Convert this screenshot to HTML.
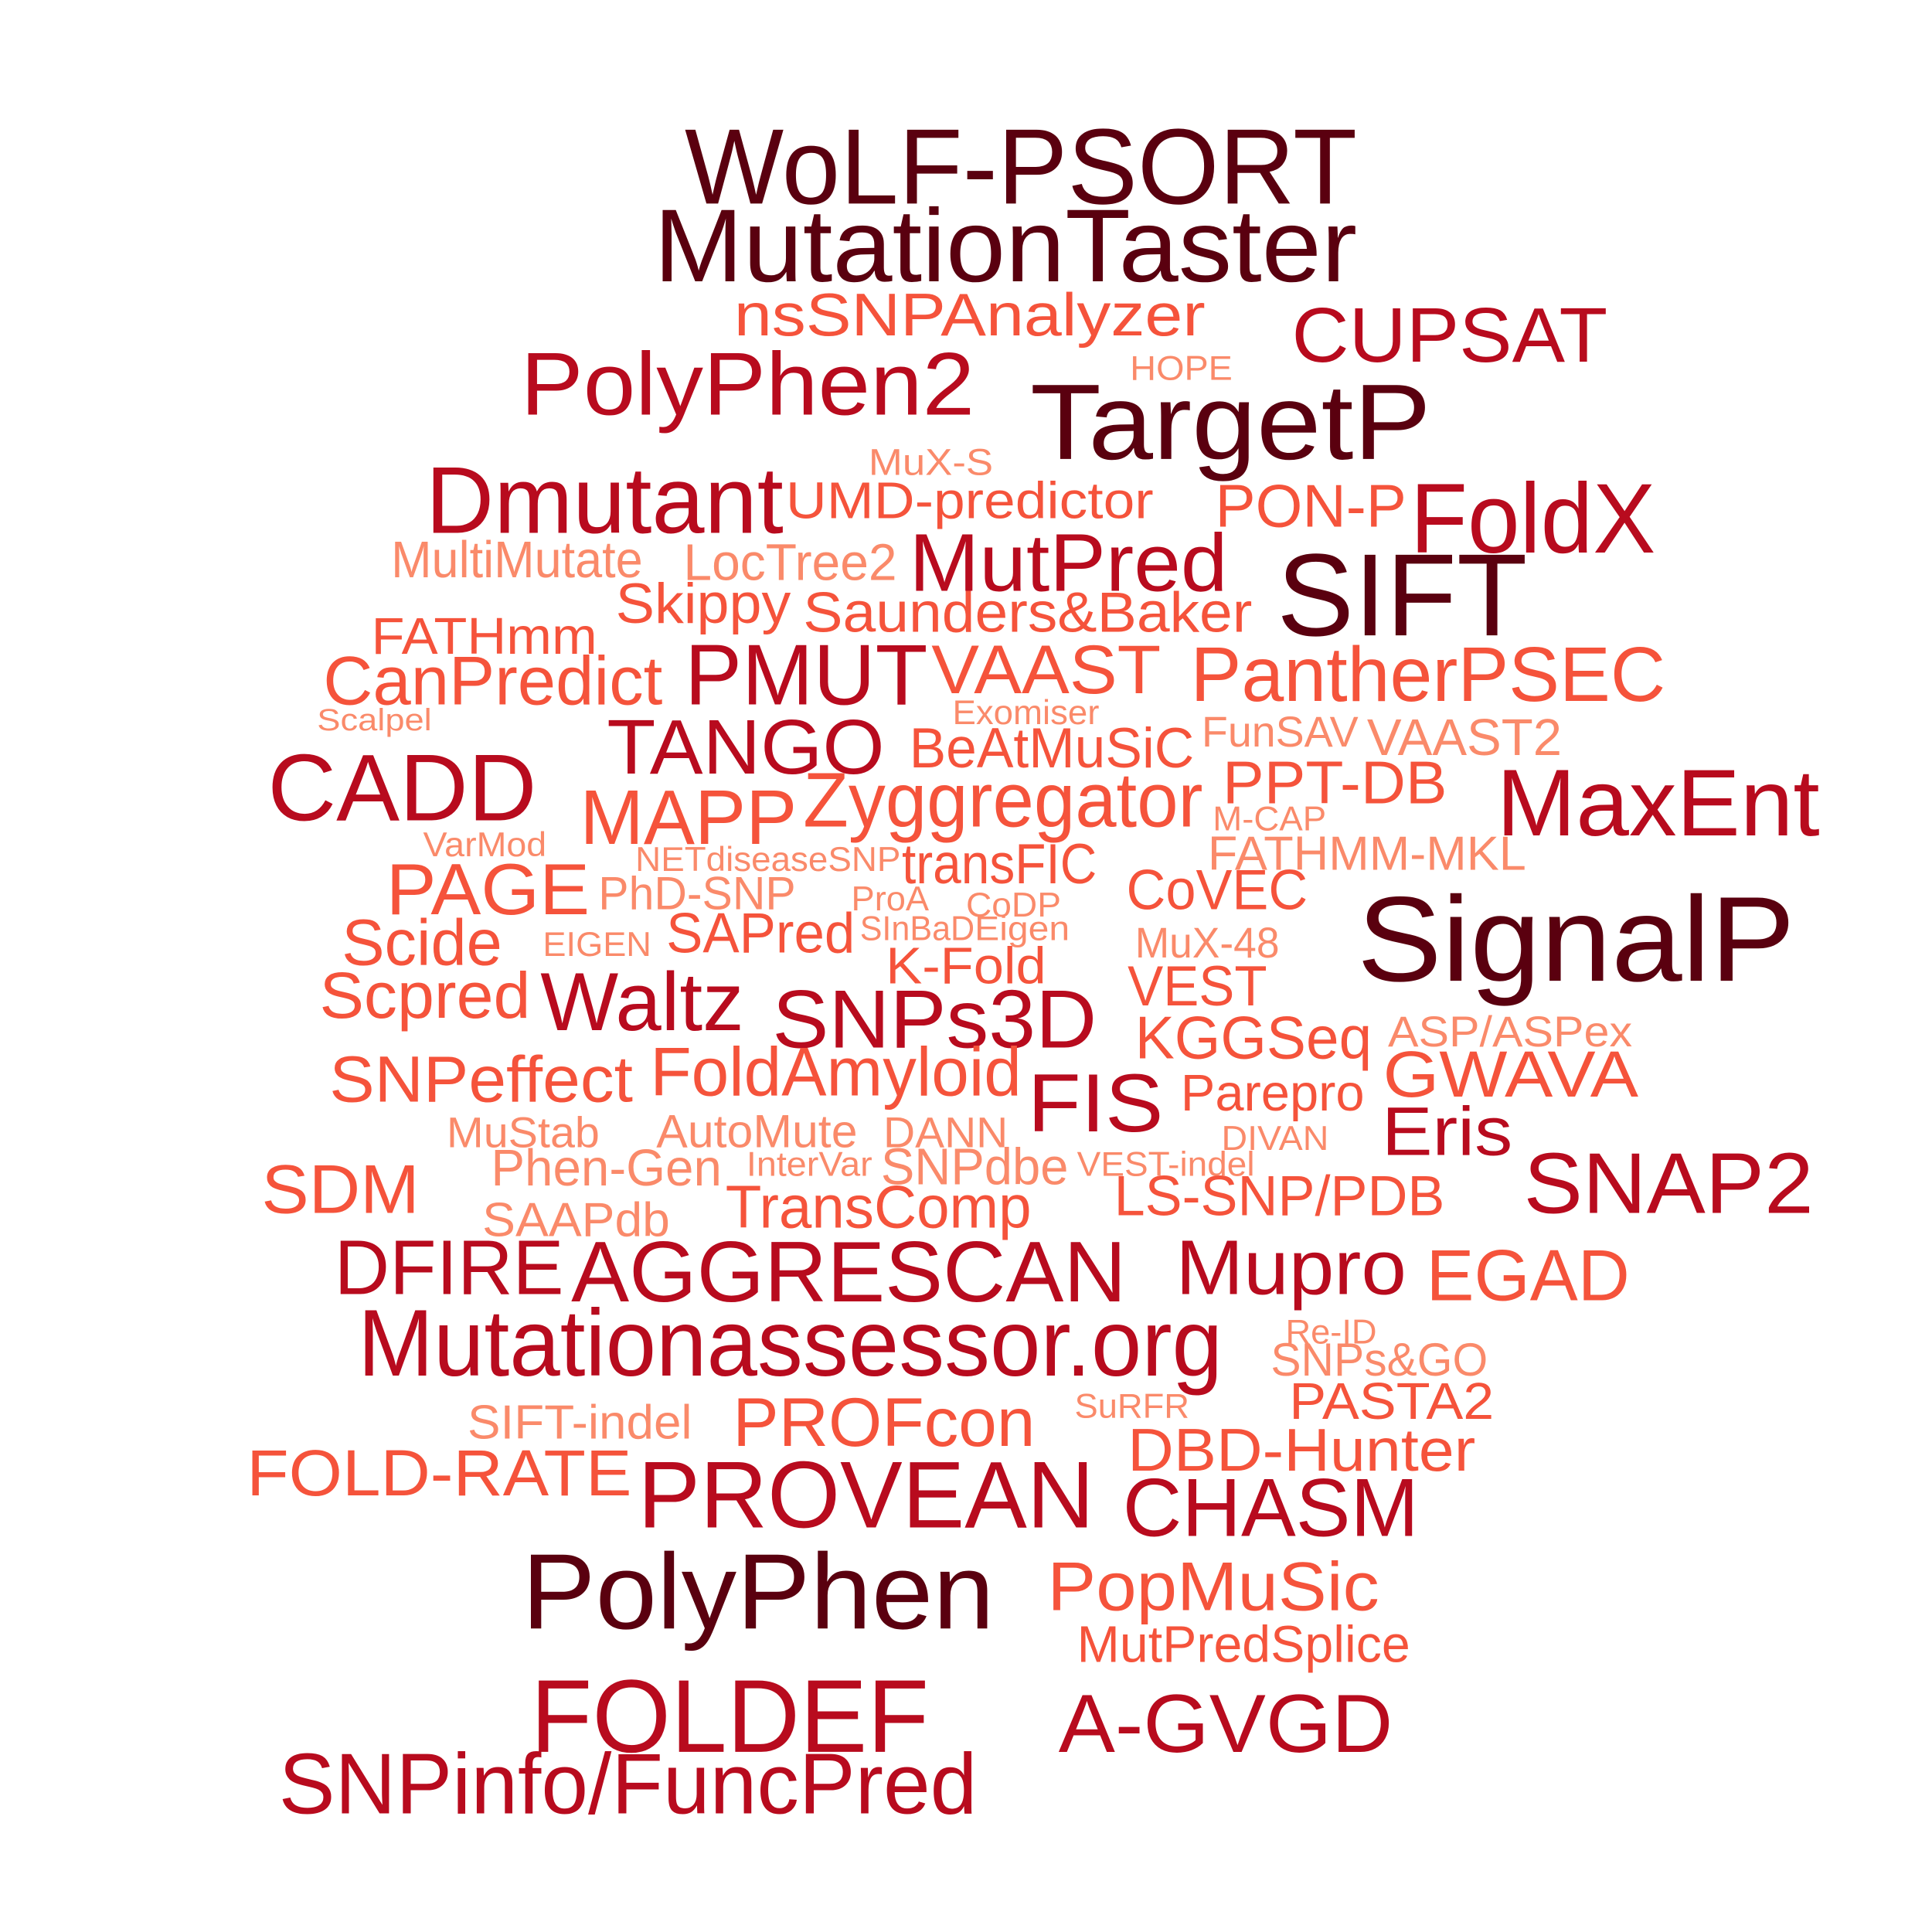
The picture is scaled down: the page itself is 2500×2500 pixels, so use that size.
<!DOCTYPE html>
<html><head><meta charset="utf-8"><style>
html,body{margin:0;padding:0;background:#fff;}
svg{display:block}
text{font-family:"Liberation Sans",Arial,sans-serif;}
</style></head><body>
<svg id="cloud" width="2500" height="2500" viewBox="0 0 1566 1566" xmlns="http://www.w3.org/2000/svg">
<rect width="1566" height="1566" fill="#fff"/>
</svg>
<script>
const words = [
["WoLF-PSORT",555,1100,165,87,"D"],["MutationTaster",530,1100,228,84,"D"],
["nsSNPAnalyzer",595,977,272,49,"O"],["CUPSAT",1047,1303,293,63,"M"],
["PolyPhen2",422,790,336,72,"M"],["HOPE",916,999,308,28,"L"],
["TargetP",835,1160,372,87,"D"],["MuX-S",704,805,385,30,"L"],
["Dmutant",345,635,432,77,"M"],["UMD-predictor",637,935,420,42,"O"],
["PON-P",985,1140,427,49,"O"],["FoldX",1143,1342,448,80,"M"],
["MultiMutate",317,521,468,42,"L"],["LocTree2",554,727,470,42,"L"],
["MutPred",737,995,479,66,"M"],["SIFT",1035,1238,515,95,"D"],
["Skippy",499,641,505,46,"O"],["Saunders&Baker",651,1015,512,46,"O"],
["FATHmm",301,484,530,42,"O"],["CanPredict",262,537,571,56,"O"],
["PMUT",555,752,571,70,"M"],["VAAST",755,941,562,56,"O"],
["PantherPSEC",965,1350,568,63,"O"],["Scalpel",257,350,592,25,"L"],
["Exomiser",772,891,587,28,"L"],["TANGO",492,717,627,63,"M"],
["BeAtMuSiC",737,968,622,46,"O"],["FunSAV",974,1101,605,35,"L"],
["VAAST2",1108,1266,612,42,"L"],["CADD",217,435,665,77,"M"],
["PPT-DB",991,1173,651,49,"O"],["MaxEnt",1213,1475,677,77,"M"],
["MAPP",470,646,684,63,"O"],["Zyggregator",651,975,670,63,"O"],
["M-CAP",983,1075,673,28,"L"],["VarMod",343,443,694,28,"L"],
["FATHMM-MKL",979,1237,705,39,"L"],["NETdiseaseSNP",515,730,706,28,"L"],
["transFIC",731,889,716,46,"O"],["PAGE",313,478,741,59,"O"],
["PhD-SNP",485,645,737,38,"L"],["ProA",690,753,738,28,"L"],
["CoDP",783,860,743,28,"L"],["CoVEC",913,1060,737,46,"O"],
["SignalP",1100,1455,795,98,"D"],["Scide",277,407,782,53,"O"],
["EIGEN",440,528,775,28,"L"],["SAPred",540,693,772,46,"O"],
["SInBaD",697,790,762,28,"L"],["Eigen",790,867,762,28,"L"],
["MuX-48",920,1037,776,35,"L"],["K-Fold",718,848,797,42,"O"],
["Scpred",259,430,825,53,"O"],["Waltz",438,603,835,67,"M"],
["SNPs3D",626,889,849,67,"M"],["VEST",914,1027,815,46,"O"],
["KGGSeq",920,1112,858,49,"O"],["ASP/ASPex",1125,1323,848,35,"L"],
["SNPeffect",267,513,893,53,"O"],["FoldAmyloid",527,828,888,56,"O"],
["FIS",833,943,917,67,"M"],["Parepro",957,1106,900,42,"O"],
["GWAVA",1121,1328,889,53,"O"],["Eris",1120,1226,936,56,"M"],
["MuStab",362,486,930,35,"L"],["AutoMute",532,695,930,38,"L"],
["DANN",716,817,930,35,"L"],["DIVAN",990,1077,932,28,"L"],
["Phen-Gen",398,585,961,42,"L"],["InterVar",605,707,953,28,"L"],
["SNPdbe",714,866,960,42,"L"],["VEST-indel",873,1017,953,28,"L"],
["SNAP2",1235,1470,983,70,"M"],["SDM",212,340,983,56,"O"],
["LS-SNP/PDB",903,1171,985,46,"O"],["TransComp",588,836,995,49,"O"],
["SAAPdb",391,543,1002,39,"L"],["DFIRE",271,457,1049,63,"M"],
["AGGRESCAN",463,913,1055,70,"M"],["Mupro",953,1140,1049,63,"M"],
["EGAD",1156,1321,1054,59,"O"],["Mutationassessor.org",290,991,1115,77,"M"],
["Re-ID",1042,1116,1089,28,"L"],["SNPs&GO",1030,1206,1115,38,"L"],
["PASTA2",1045,1211,1150,42,"O"],["SuRFR",871,964,1149,28,"L"],
["SIFT-indel",379,561,1166,39,"L"],["PROFcon",594,839,1172,56,"O"],
["DBD-Hunter",914,1196,1192,49,"O"],["FOLD-RATE",200,512,1212,53,"O"],
["PROVEAN",517,887,1238,77,"M"],["CHASM",910,1150,1245,67,"M"],
["PolyPhen",423,806,1320,87,"D"],["PopMuSic",849,1118,1305,56,"O"],
["MutPredSplice",873,1143,1347,42,"O"],["FOLDEF",430,753,1420,84,"M"],
["A-GVGD",858,1129,1420,67,"M"],["SNPinfo/FuncPred",226,792,1470,70,"M"]
];
const colors = {D:"#5a000f",M:"#b80b1e",O:"#f5533b",L:"#fa8a6a"};
const svg = document.getElementById('cloud');
const NS = "http://www.w3.org/2000/svg";
words.forEach(w => {
  const t = document.createElementNS(NS,'text');
  t.setAttribute('x', w[1]);
  t.setAttribute('y', w[3]);
  t.setAttribute('font-size', w[4]);
  t.setAttribute('fill', colors[w[5]]);
  t.setAttribute('textLength', w[2]-w[1]);
  t.setAttribute('lengthAdjust', 'spacingAndGlyphs');
  t.textContent = w[0];
  
  
  svg.appendChild(t);
});
</script>
</body></html>
